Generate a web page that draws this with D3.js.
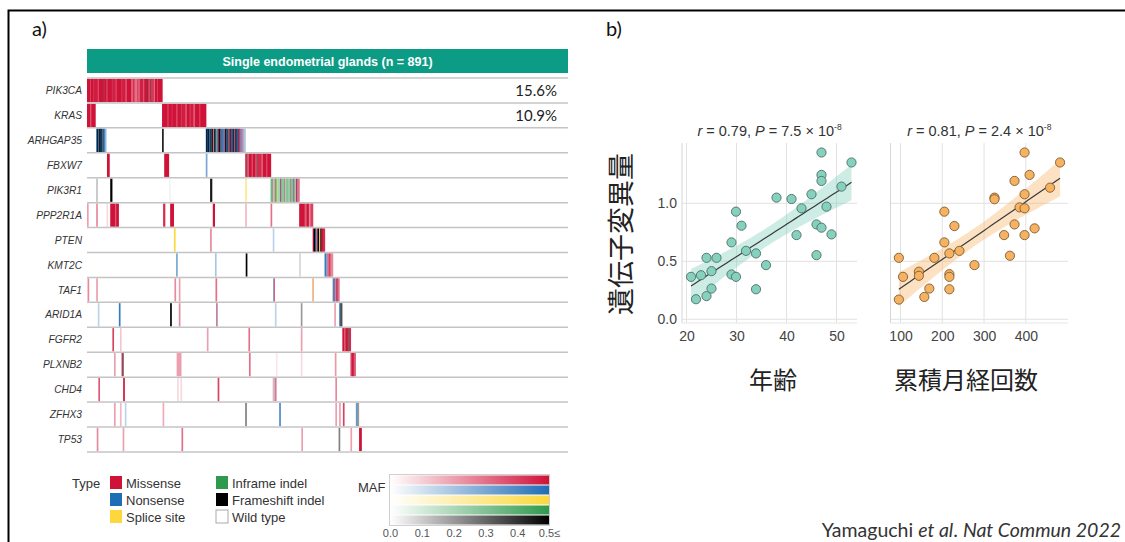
<!DOCTYPE html>
<html>
<head>
<meta charset="utf-8">
<script src="https://cdn.jsdelivr.net/npm/d3@7"></script>
<style>
  body { margin: 0; background: #fff; }
  svg { display: block; }
</style>
</head>
<body>
<svg id="chart" width="1125" height="542"></svg>
<script>
// ---------- data ----------
const N_SAMPLES = 891;
const GENES = ["PIK3CA", "KRAS", "ARHGAP35", "FBXW7", "PIK3R1", "PPP2R1A", "PTEN", "KMT2C",
               "TAF1", "ARID1A", "FGFR2", "PLXNB2", "CHD4", "ZFHX3", "TP53"];
const PCT_GENES = ["PIK3CA", "KRAS"];
const PCT_TEXT = ["15.6%", "10.9%"];

// each event: [first sample, number of samples, type, MAF]
// type: M missense, N nonsense, S splice site, I inframe indel, F frameshift indel
const MUT_PIK3CA = [[0,6,"M",.5],[6,1,"M",.36],[7,5,"M",.5],[12,1,"M",.38],[13,7,"M",.48],[20,2,"M",.36],
  [22,9,"M",.5],[31,1,"F",.3],[32,4,"M",.5],[36,2,"M",.36],[38,8,"M",.5],[46,1,"M",.4],[47,6,"M",.47],
  [53,2,"M",.36],[55,9,"M",.5],[64,1,"M",.36],[65,6,"M",.48],[71,3,"M",.37],[74,8,"M",.5],[82,3,"M",.32],
  [85,3,"M",.44],[88,5,"M",.3],[93,2,"M",.42],[95,3,"M",.34],[98,6,"M",.47],[104,2,"M",.36],[106,5,"M",.5],
  [111,1,"F",.35],[112,2,"M",.5],[114,2,"M",.34],[116,3,"M",.47],[119,1,"F",.3],[120,4,"M",.42],
  [124,2,"M",.32],[126,4,"M",.5],[130,1,"M",.36],[131,8,"M",.5]];
const MUT_KRAS = [[0,6,"M",.5],[6,2,"M",.34],[8,7,"M",.5],[139,10,"M",.5],[149,2,"M",.36],[151,6,"M",.5],
  [157,1,"M",.38],[158,7,"M",.5],[165,3,"M",.4],[168,6,"M",.5],[174,1,"M",.36],[175,7,"M",.48],[182,3,"M",.36],
  [185,5,"M",.5],[190,2,"M",.4],[192,5,"M",.48],[197,3,"M",.34],[200,8,"M",.5],[208,2,"M",.4],[210,10,"M",.5]];
const MUT_ARHGAP35 = [[17,2,"N",.5],[19,2,"F",.5],[21,1,"N",.3],[22,2,"F",.45],[24,1,"N",.5],[25,2,"F",.5],
  [27,2,"N",.45],[29,2,"F",.35],[31,2,"N",.45],[33,2,"N",.25],
  [139,2,"F",.45],[220,1,"N",.5],[221,2,"F",.5],[223,1,"N",.5],[224,2,"F",.45],[226,2,"N",.5],[228,2,"F",.4],
  [230,1,"N",.5],[231,2,"F",.5],[233,2,"M",.3],[235,1,"N",.5],[236,2,"F",.5],[238,2,"I",.35],
  [240,2,"N",.4],[242,2,"M",.45],[244,2,"F",.5],[246,2,"N",.5],[248,2,"F",.3],[250,3,"N",.45],[253,2,"M",.35],
  [255,1,"N",.5],[256,2,"F",.5],[258,2,"N",.5],[260,2,"F",.4],[262,2,"M",.3],[264,2,"F",.45],[266,1,"N",.5],
  [267,1,"M",.5],[268,2,"N",.5],[270,2,"F",.45],[272,2,"M",.4],[274,1,"N",.5],[275,2,"F",.45],[277,2,"N",.45],
  [279,1,"F",.4],[280,2,"M",.5],[282,1,"N",.5],[283,2,"M",.35],[285,3,"N",.35],[288,2,"M",.25],[290,3,"N",.2]];
const MUT_FBXW7 = [[37,4,"M",.5],[143,8,"M",.5],[220,2,"N",.3],[293,3,"M",.45],[296,1,"F",.3],[297,3,"M",.34],
  [300,5,"M",.5],[305,2,"M",.34],[307,5,"M",.5],[312,2,"M",.3],[314,1,"F",.35],[315,8,"M",.45],[323,3,"M",.34],
  [326,6,"M",.5],[332,2,"M",.38],[334,6,"M",.5]];
const MUT_PIK3R1 = [[17,2,"F",.12],[43,3,"F",.5],[152,2,"I",.04],[228,3,"F",.45],[293,2,"S",.3],
  [340,3,"I",.35],[343,1,"M",.35],[344,4,"I",.22],[348,1,"M",.45],[349,3,"I",.3],[352,1,"S",.5],
  [353,5,"I",.22],[358,1,"M",.5],[359,1,"N",.35],[360,5,"I",.28],[365,1,"M",.4],[366,4,"I",.22],
  [370,1,"I",.45],[371,5,"I",.25],[376,1,"M",.35],[377,5,"I",.3],[382,1,"N",.35],[383,1,"M",.5],[384,3,"I",.22],
  [387,2,"M",.45],[389,1,"N",.35],[390,3,"M",.3]];
const MUT_PPP2R1A = [[0,2,"M",.2],[17,2,"M",.25],[36,2,"M",.08],[43,9,"M",.5],[52,2,"M",.35],[54,4,"M",.5],
  [141,3,"M",.45],[154,6,"M",.5],[233,3,"M",.5],[293,2,"M",.15],[340,2,"M",.3],
  [393,10,"M",.5],[403,4,"M",.35],[407,4,"M",.5],[411,3,"M",.25],[414,4,"M",.4]];
const MUT_PTEN = [[161,2,"S",.5],[228,2,"M",.25],[344,2,"N",.15],[418,2,"M",.5],[420,3,"F",.5],[423,2,"N",.4],
  [425,2,"M",.3],[427,3,"F",.5],[430,2,"S",.4],[432,2,"F",.45],[434,3,"M",.5],[437,3,"M",.45]];
const MUT_KMT2C = [[165,2,"N",.3],[237,2,"N",.2],[294,2,"F",.5],[393,2,"F",.08],[440,3,"N",.45],[443,2,"N",.3],
  [445,3,"M",.3],[448,3,"M",.4],[451,4,"M",.25]];
const MUT_TAF1 = [[1,2,"M",.25],[17,2,"M",.2],[162,2,"M",.25],[170,2,"M",.2],[238,2,"M",.3],[345,1,"N",.35],
  [346,1,"M",.35],[417,1,"S",.5],[418,1,"M",.2],[455,2,"N",.4],[457,2,"M",.4],[459,3,"N",.3],[462,2,"M",.5],[464,3,"M",.3]];
const MUT_ARID1A = [[20,2,"N",.15],[59,2,"N",.45],[154,2,"F",.5],[170,2,"M",.25],[239,1,"N",.3],[240,1,"M",.3],
  [348,2,"N",.15],[396,2,"F",.2],[458,2,"M",.2],[467,2,"N",.4],[469,3,"F",.35]];
const MUT_FGFR2 = [[47,2,"M",.4],[61,2,"M",.12],[222,2,"M",.2],[299,2,"M",.3],[396,2,"M",.2],[473,3,"M",.5],
  [476,3,"M",.35],[479,4,"M",.5],[483,2,"F",.3],[485,3,"M",.45]];
const MUT_PLXNB2 = [[50,2,"M",.2],[64,2,"M",.45],[66,1,"F",.3],[166,8,"M",.2],[300,2,"M",.3],[350,2,"M",.05],
  [396,2,"M",.08],[459,2,"M",.22],[488,3,"M",.4],[491,3,"M",.5],[494,3,"M",.35]];
const MUT_CHD4 = [[21,2,"M",.35],[67,2,"M",.5],[167,2,"M",.08],[173,2,"M",.08],[242,2,"M",.4],[344,1,"M",.2],
  [346,1,"N",.2],[348,2,"M",.3],[460,2,"M",.25]];
const MUT_ZFHX3 = [[50,2,"M",.2],[61,2,"M",.15],[70,2,"N",.15],[140,2,"M",.18],[293,2,"F",.25],[356,2,"N",.4],
  [460,2,"M",.2],[467,2,"M",.2],[474,2,"M",.4],[498,3,"N",.35],[501,2,"F",.2]];
const MUT_TP53 = [[18,2,"M",.25],[66,2,"M",.2],[175,2,"M",.3],[397,2,"M",.2],[466,2,"F",.25],[488,2,"M",.2],[504,4,"M",.5]];
const MUTATIONS = [MUT_PIK3CA, MUT_KRAS, MUT_ARHGAP35, MUT_FBXW7, MUT_PIK3R1, MUT_PPP2R1A, MUT_PTEN, MUT_KMT2C,
                   MUT_TAF1, MUT_ARID1A, MUT_FGFR2, MUT_PLXNB2, MUT_CHD4, MUT_ZFHX3, MUT_TP53];

const LEGEND_KEYS = ["M", "N", "S", "I", "F", "W"];
const LEGEND_NAMES = ["Missense", "Nonsense", "Splice site", "Inframe indel", "Frameshift indel", "Wild type"];
const MAF_TICKS = [0, 0.1, 0.2, 0.3, 0.4, 0.5];
const MAF_TICK_TEXT = ["0.0", "0.1", "0.2", "0.3", "0.4", "0.5≤"];

// scatter b): age vs mutation load, cumulative menstrual cycles vs mutation load
const AGE = [20.9,21.9,22.9,24,24,25,25,26,29,29,29.9,29.9,31,31.9,33.9,33.9,35.9,38,41,42,43,45,46,46,47,47,47,47,48,49,51,53];
const LOAD_AGE = [.366,.173,.38,.53,.20,.415,.265,.53,.663,.386,.928,.366,.807,.59,.568,.259,.467,1.049,1.037,.726,
                  .957,1.078,.818,.553,1.438,1.245,1.193,.79,.971,.732,1.144,1.352];
const MENSES = [96,96,106,144,144,157,169,181,205,205,217,217,217,217,229,241,277,325,325,348,362,373,373,385,397,397,397,397,409,421,458,482];
const LOAD_MENSES = [.53,.17,.366,.41,.375,.193,.265,.53,.928,.663,.568,.389,.366,.259,.804,.59,.467,1.049,1.035,.726,
                     .548,1.193,.818,.965,1.438,1.078,.957,.726,1.245,.784,1.135,1.352];
const LOAD_TICKS = [0, 0.5, 1.0];
const AGE_TICKS = [20, 30, 40, 50];
const MENSES_TICKS = [100, 200, 300, 400];

// ---------- layout ----------
const ONCO_X0 = 87, ONCO_X1 = 568, ONCO_Y0 = 78, ROW_H = 24.93;
const TYPE_COLOR = { M: "#cf1238", N: "#1f6db6", S: "#fcd83c", I: "#2f9a4e", F: "#000000" };
const SANS = "'Liberation Sans', Arial, sans-serif";
const HUMAN = "Lato, 'Open Sans', sans-serif";
const CJK = "'Noto Sans CJK JP', sans-serif";

const svg = d3.select("#chart");
const g = svg.append("g");

function mafColor(type, maf) {
    return d3.scaleLinear().domain([0, 0.5]).range(["#ffffff", TYPE_COLOR[type]]).clamp(true)(maf);
}

function draw_frame() {
    g.append("rect")
        .attr("x", 8.5).attr("y", 10.5)
        .attr("width", 1130).attr("height", 560)
        .attr("fill", "none").attr("stroke", "#000").attr("stroke-width", 2);
    g.append("text").text("a)").attr("x", 32).attr("y", 36)
        .attr("font-family", HUMAN).attr("font-size", 20).attr("fill", "#111");
    g.append("text").text("b)").attr("x", 606).attr("y", 36)
        .attr("font-family", HUMAN).attr("font-size", 20).attr("fill", "#111");
}

function draw_oncoprint() {
    const xs = d3.scaleLinear().domain([0, N_SAMPLES]).range([ONCO_X0, ONCO_X1]);
    const ys = d3.scaleBand().domain(GENES).range([ONCO_Y0, ONCO_Y0 + ROW_H * GENES.length]);

    g.append("rect")
        .attr("x", ONCO_X0).attr("y", 49).attr("width", ONCO_X1 - ONCO_X0).attr("height", 24)
        .attr("fill", "#0c9c86");
    g.append("text").text("Single endometrial glands (n = 891)")
        .attr("x", (ONCO_X0 + ONCO_X1) / 2).attr("y", 65.5)
        .attr("text-anchor", "middle").attr("font-family", SANS).attr("font-weight", "bold")
        .attr("font-size", 12.5).attr("fill", "#fff");

    GENES.forEach((gene, i) => {
        const top = ys(gene);
        // narrow cells are drawn at least 1px wide and overlap the next one, so no white seams show
        MUTATIONS[i].forEach(m => {
            const x0 = xs(m[0]);
            g.append("rect")
                .attr("x", x0)
                .attr("y", top + 0.8)
                .attr("width", Math.max(1.1, xs(m[0] + m[1]) - x0 + 0.6))
                .attr("height", ys.bandwidth() - 1.6)
                .attr("fill", mafColor(m[2], m[3]));
        });
        g.append("text").text(gene)
            .attr("x", 82).attr("y", top + ys.bandwidth() / 2 + 3.6)
            .attr("text-anchor", "end").attr("font-family", SANS).attr("font-style", "italic")
            .attr("font-size", 10.2).attr("fill", "#333");
    });

    d3.range(GENES.length + 1).forEach(i => {
        const y = ONCO_Y0 + i * ROW_H;
        g.append("line")
            .attr("x1", ONCO_X0).attr("x2", ONCO_X1).attr("y1", y).attr("y2", y)
            .attr("stroke", "#c4c4c4").attr("stroke-width", 1.5);
    });

    PCT_GENES.forEach((gene, i) => {
        g.append("text").text(PCT_TEXT[i])
            .attr("x", 557).attr("y", ys(gene) + ys.bandwidth() / 2 + 5.5)
            .attr("text-anchor", "end").attr("font-family", HUMAN)
            .attr("font-size", 15).attr("fill", "#222");
    });
}

function draw_legend() {
    g.append("text").text("Type").attr("x", 72).attr("y", 488)
        .attr("font-family", SANS).attr("font-size", 13).attr("fill", "#333");
    LEGEND_KEYS.forEach((k, i) => {
        const x = i < 3 ? 110 : 216;
        const y = 476 + (i % 3) * 17;
        g.append("rect")
            .attr("x", x).attr("y", y).attr("width", 12).attr("height", 13)
            .attr("fill", k === "W" ? "#fff" : TYPE_COLOR[k])
            .attr("stroke", k === "W" ? "#aaa" : "none");
        g.append("text").text(LEGEND_NAMES[i])
            .attr("x", x + 16).attr("y", y + 11.5)
            .attr("font-family", SANS).attr("font-size", 13).attr("fill", "#333");
    });

    g.append("text").text("MAF").attr("x", 358).attr("y", 492)
        .attr("font-family", SANS).attr("font-size", 13).attr("fill", "#333");

    const mx = d3.scaleLinear().domain([0, 0.5]).range([390, 549]);
    const defs = svg.append("defs");
    ["M", "N", "S", "I", "F"].forEach((k, i) => {
        const grad = defs.append("linearGradient").attr("id", "maf-" + k)
            .attr("x1", "0%").attr("x2", "100%").attr("y1", "0%").attr("y2", "0%");
        MAF_TICKS.forEach(v => {
            grad.append("stop").attr("offset", (v / 0.5 * 100) + "%").attr("stop-color", mafColor(k, v));
        });
        g.append("rect")
            .attr("x", mx(0)).attr("y", 475.5 + i * 10)
            .attr("width", mx(0.5) - mx(0)).attr("height", 9)
            .attr("fill", "url(#maf-" + k + ")");
    });
    g.append("rect")
        .attr("x", mx(0) - 0.5).attr("y", 474.5).attr("width", mx(0.5) - mx(0) + 1).attr("height", 51)
        .attr("fill", "none").attr("stroke", "#cfcfcf");

    const axis = g.append("g").attr("transform", "translate(0,525)")
        .call(d3.axisBottom(mx).tickValues(MAF_TICKS).tickSize(0).tickPadding(4)
              .tickFormat((d, i) => MAF_TICK_TEXT[i]));
    axis.select(".domain").remove();
    axis.selectAll("text").attr("font-family", SANS).attr("font-size", 11).attr("fill", "#555");
}

function regression(xv, yv) {
    const n = xv.length;
    const mxv = d3.mean(xv), myv = d3.mean(yv);
    const sxx = d3.sum(xv, x => (x - mxv) * (x - mxv));
    const sxy = d3.sum(xv.map((x, i) => (x - mxv) * (yv[i] - myv)));
    const b = sxy / sxx, a = myv - b * mxv;
    const s = Math.sqrt(d3.sum(xv.map((x, i) => Math.pow(yv[i] - a - b * x, 2))) / (n - 2));
    const t = 2.042;
    return x0 => {
        const yhat = a + b * x0;
        const se = s * Math.sqrt(1 / n + (x0 - mxv) * (x0 - mxv) / sxx);
        return { x: x0, y: yhat, lo: yhat - t * se, hi: yhat + t * se };
    };
}

function draw_scatter(o) {
    const x = d3.scaleLinear().domain(o.xDomain).range(o.xRange);
    const y = d3.scaleLinear().domain([-0.032, 1.52]).range([323, 143]);
    const p = g.append("g");

    // grid
    LOAD_TICKS.forEach(v => {
        p.append("line").attr("x1", o.xRange[0]).attr("x2", o.xRange[1]).attr("y1", y(v)).attr("y2", y(v))
            .attr("stroke", "#e2e2e2").attr("stroke-width", 1);
    });
    o.ticks.forEach(v => {
        p.append("line").attr("x1", x(v)).attr("x2", x(v)).attr("y1", 143).attr("y2", 323)
            .attr("stroke", "#e2e2e2").attr("stroke-width", 1);
    });
    p.append("line").attr("x1", o.xRange[0]).attr("x2", o.xRange[0]).attr("y1", 143).attr("y2", 323)
        .attr("stroke", "#d6d6d6");
    p.append("line").attr("x1", o.xRange[0]).attr("x2", o.xRange[1]).attr("y1", 323).attr("y2", 323)
        .attr("stroke", "#e6e6e6");

    // fit + confidence band
    const fit = regression(o.xs, o.ys);
    const ext = d3.extent(o.xs);
    const curve = d3.range(0, 41).map(i => fit(ext[0] + (ext[1] - ext[0]) * i / 40));
    p.append("path")
        .attr("d", d3.area().x(d => x(d.x)).y0(d => y(d.lo)).y1(d => y(d.hi))(curve))
        .attr("fill", o.band);
    p.append("path")
        .attr("d", d3.line().x(d => x(d.x)).y(d => y(d.y))(curve))
        .attr("fill", "none").attr("stroke", "#3a3a3a").attr("stroke-width", 1.2);

    o.xs.forEach((v, i) => {
        p.append("circle")
            .attr("cx", x(v)).attr("cy", y(o.ys[i])).attr("r", 4.6)
            .attr("fill", o.fill).attr("stroke", o.stroke).attr("stroke-width", 0.9);
    });

    const xa = p.append("g").attr("transform", "translate(0,323)")
        .call(d3.axisBottom(x).tickValues(o.ticks).tickSize(0).tickPadding(8));
    xa.select(".domain").remove();
    xa.selectAll("text").attr("font-family", SANS).attr("font-size", 14).attr("fill", "#444");

    if (o.yLabels) {
        const ya = p.append("g").attr("transform", "translate(" + o.xRange[0] + ",0)")
            .call(d3.axisLeft(y).tickValues(LOAD_TICKS).tickSize(0).tickPadding(5).tickFormat(d3.format(".1f")));
        ya.select(".domain").remove();
        ya.selectAll("text").attr("font-family", SANS).attr("font-size", 14).attr("fill", "#444");
    }

    const t = p.append("text").attr("x", (o.xRange[0] + o.xRange[1]) / 2).attr("y", 136)
        .attr("text-anchor", "middle").attr("font-family", SANS).attr("font-size", 14.5).attr("fill", "#333");
    t.append("tspan").text("r").attr("font-style", "italic");
    t.append("tspan").text(" = " + o.r + ", ");
    t.append("tspan").text("P").attr("font-style", "italic");
    t.append("tspan").text(" = " + o.pval + " × 10");
    t.append("tspan").text("-8").attr("font-size", 8.5).attr("dy", -6);

    g.append("text").text(o.label).attr("x", o.labelX).attr("y", 389)
        .attr("text-anchor", "middle").attr("font-family", CJK).attr("font-size", 24).attr("fill", "#222");
}

function draw_panel_b() {
    draw_scatter({ xs: AGE, ys: LOAD_AGE, xDomain: [19.1, 54.1], xRange: [682, 857], ticks: AGE_TICKS,
                   fill: "#86d0be", stroke: "#4d6e66", band: "rgba(120,205,185,0.38)",
                   r: "0.79", pval: "7.5", label: "年齢", labelX: 773, yLabels: true });
    draw_scatter({ xs: MENSES, ys: LOAD_MENSES, xDomain: [76, 501], xRange: [890.5, 1068], ticks: MENSES_TICKS,
                   fill: "#f6b260", stroke: "#7d5b32", band: "rgba(246,175,95,0.38)",
                   r: "0.81", pval: "2.4", label: "累積月経回数", labelX: 966, yLabels: false });

    g.append("text").text("遺伝子変異量")
        .attr("transform", "translate(631,234) rotate(-90)")
        .attr("text-anchor", "middle").attr("font-family", CJK).attr("font-size", 27).attr("fill", "#222");

    const c = g.append("text").attr("x", 1121).attr("y", 537).attr("text-anchor", "end")
        .attr("font-family", HUMAN).attr("font-size", 19.5).attr("fill", "#333");
    c.append("tspan").text("Yamaguchi ");
    c.append("tspan").text("et al").attr("font-style", "italic");
    c.append("tspan").text(". ");
    c.append("tspan").text("Nat Commun 2022").attr("font-style", "italic");
}

function init() {
    draw_frame();
    draw_oncoprint();
    draw_legend();
    draw_panel_b();
}

init();
</script>
</body>
</html>
